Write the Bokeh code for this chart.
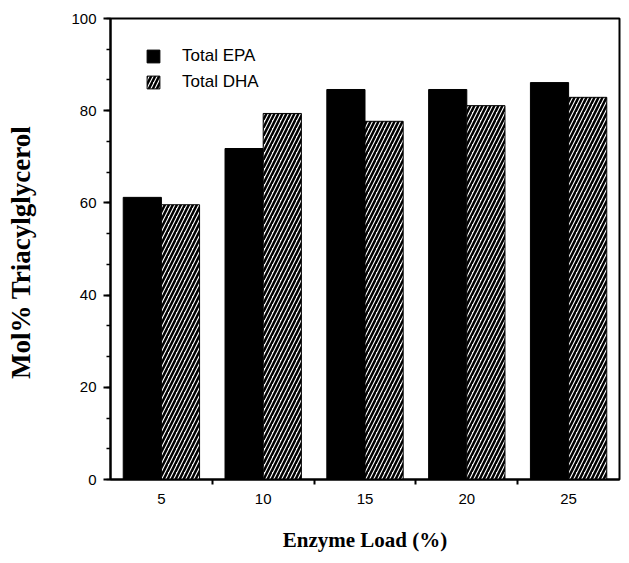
from bokeh.plotting import figure
from bokeh.models import (FixedTicker, SingleIntervalTicker, Range1d, Legend,
                          LegendItem, ColumnDataSource)
from bokeh.transform import dodge
from bokeh.embed import file_html
from bokeh.resources import INLINE

# ---- data ----
loads = ["5", "10", "15", "20", "25"]          # Enzyme load (%)
epa = [61.2, 71.8, 84.6, 84.6, 86.1]           # Total EPA, mol% in TAG
dha = [59.6, 79.4, 77.7, 81.1, 82.9]           # Total DHA, mol% in TAG
series = ["Total EPA", "Total DHA"]
y_tick_step = 20

pos = list(range(1, len(loads) + 1))
src = ColumnDataSource(dict(x=pos, epa=epa, dha=dha))

p = figure(width=621, height=555, output_backend="svg", toolbar_location=None,
           x_range=Range1d(0.5, len(loads) + 0.5), y_range=Range1d(0, 100),
           min_border_left=110, min_border_right=2, min_border_top=18,
           min_border_bottom=76)

bw = 0.375
r1 = p.vbar(x=dodge('x', -bw / 2), top='epa', width=bw, source=src,
            fill_color='black', line_color='black', line_width=1)
r2 = p.vbar(x=dodge('x', bw / 2), top='dha', width=bw, source=src,
            fill_color='white', line_color='black', line_width=1,
            hatch_pattern='/', hatch_color='black', hatch_scale=8,
            hatch_weight=2.5)

# grid / frame
p.xgrid.visible = False
p.ygrid.visible = False
p.outline_line_color = 'black'
p.outline_line_width = 2
p.background_fill_color = 'white'
p.border_fill_color = 'white'

# x axis
xa = p.xaxis[0]
xa.ticker = FixedTicker(ticks=pos, minor_ticks=[i + 0.5 for i in pos[:-1]])
xa.major_label_overrides = {i: l for i, l in zip(pos, loads)}
xa.major_tick_out = 0
xa.major_tick_in = 0
xa.minor_tick_out = 5
xa.minor_tick_in = 0
xa.minor_tick_line_width = 2
xa.axis_line_width = 2
xa.major_label_standoff = 9
xa.major_label_text_font = "Liberation Sans"
xa.major_label_text_font_size = "15px"
xa.major_label_text_color = "black"
xa.axis_label = "Enzyme Load (%)"
xa.axis_label_text_font = "Liberation Serif"
xa.axis_label_text_font_style = "bold"
xa.axis_label_text_font_size = "21px"
xa.axis_label_text_color = "black"
xa.axis_label_text_line_height = 0.8
xa.axis_label_standoff = 21

# y axis
ya = p.yaxis[0]
ya.ticker = SingleIntervalTicker(interval=y_tick_step, num_minor_ticks=3)
ya.major_tick_out = 7
ya.major_tick_in = 0
ya.minor_tick_out = 4
ya.minor_tick_in = 0
ya.major_tick_line_width = 2
ya.minor_tick_line_width = 1.5
ya.axis_line_width = 2
ya.major_label_standoff = 7
ya.major_label_text_font = "Liberation Sans"
ya.major_label_text_font_size = "15px"
ya.major_label_text_color = "black"
ya.axis_label = "Mol%  Triacylglycerol"
ya.axis_label_text_font = "Liberation Serif"
ya.axis_label_text_font_style = "bold"
ya.axis_label_text_font_size = "27px"
ya.axis_label_text_color = "black"
ya.axis_label_standoff = 32

legend = Legend(items=[LegendItem(label=series[0], renderers=[r1]),
                       LegendItem(label=series[1], renderers=[r2])],
                location=(35, 387), padding=0, margin=0, spacing=6,
                glyph_width=16, glyph_height=16, label_height=16,
                label_standoff=21, border_line_alpha=0,
                background_fill_alpha=0,
                label_text_font="Liberation Sans",
                label_text_font_size="17px", label_text_color="black")
p.add_layout(legend)

open("out.html", "w").write(file_html(p, INLINE))
